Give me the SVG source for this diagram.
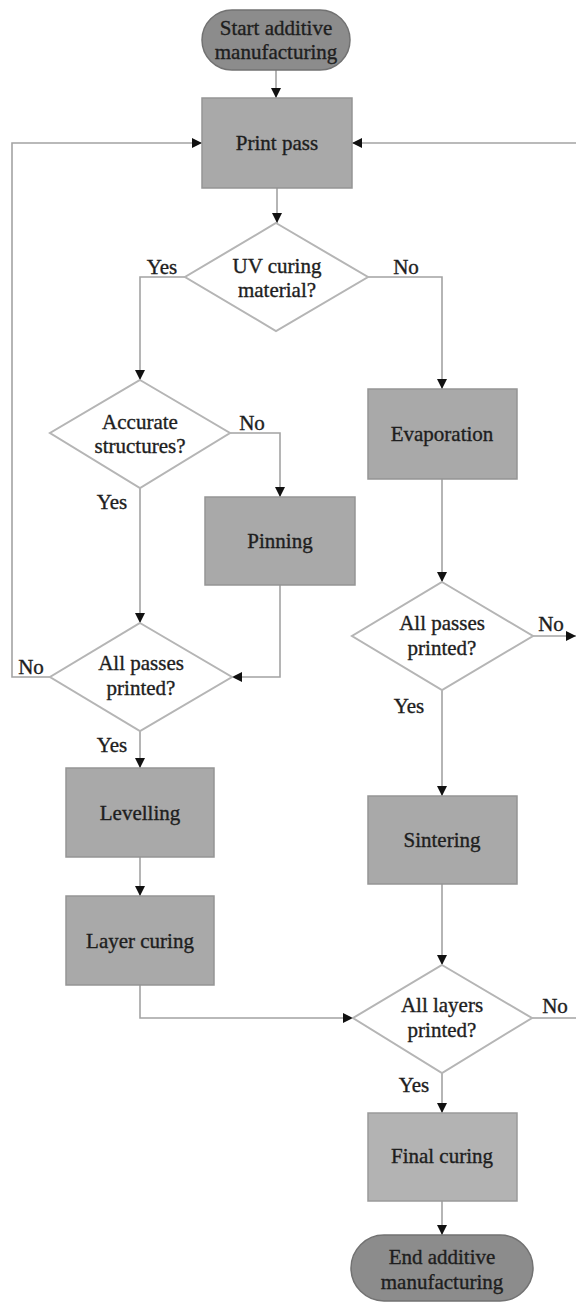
<svg xmlns="http://www.w3.org/2000/svg" width="576" height="1306" viewBox="0 0 576 1306">
<defs>
<style>
text{font-family:"Liberation Serif","DejaVu Serif","Noto Serif",serif;font-size:21px;fill:#1e1e1e;stroke:#1e1e1e;stroke-width:0.35;text-anchor:middle}
.term{fill:#8c8c8c;stroke:#727272;stroke-width:1.5}
.proc{fill:#a9a9a9;stroke:#959595;stroke-width:1.5}
.proc2{fill:#b3b3b3;stroke:#9a9a9a;stroke-width:1.5}
.dec{fill:#fff;stroke:#b5b5b5;stroke-width:2}
.edge{fill:none;stroke:#a3a3a3;stroke-width:1.6}
</style>
<marker id="arr" viewBox="0 0 10 10" refX="10" refY="5" markerWidth="10" markerHeight="10" markerUnits="userSpaceOnUse" orient="auto">
<path d="M0,0 L10,5 L0,10 z" fill="#111"/>
</marker>
</defs>
<rect width="576" height="1306" fill="#fff"/>

<g id="connectors">
<path class="edge" d="M276,70 V98" marker-end="url(#arr)"/>
<path class="edge" d="M277,188 V223" marker-end="url(#arr)"/>
<path class="edge" d="M185,277 H140 V380" marker-end="url(#arr)"/>
<path class="edge" d="M368,277 H442 V389" marker-end="url(#arr)"/>
<path class="edge" d="M230,433 H280 V497" marker-end="url(#arr)"/>
<path class="edge" d="M140,488 V623" marker-end="url(#arr)"/>
<path class="edge" d="M280,585 V677 H232" marker-end="url(#arr)"/>
<path class="edge" d="M50,677 H12 V143 H202" marker-end="url(#arr)"/>
<path class="edge" d="M140,731 V768" marker-end="url(#arr)"/>
<path class="edge" d="M140,857 V896" marker-end="url(#arr)"/>
<path class="edge" d="M140,985 V1018 H353" marker-end="url(#arr)"/>
<path class="edge" d="M442,479 V582" marker-end="url(#arr)"/>
<path class="edge" d="M533,636 H576" marker-end="url(#arr)"/>
<path class="edge" d="M576,143 H352" marker-end="url(#arr)"/>
<path class="edge" d="M442,690 V796" marker-end="url(#arr)"/>
<path class="edge" d="M442,884 V965" marker-end="url(#arr)"/>
<path class="edge" d="M532,1018 H576"/>
<path class="edge" d="M442,1073 V1113" marker-end="url(#arr)"/>
<path class="edge" d="M442,1201 V1235" marker-end="url(#arr)"/>
<text x="162" y="274">Yes</text>
<text x="406" y="274">No</text>
<text x="252" y="430">No</text>
<text x="112" y="509">Yes</text>
<text x="31" y="674">No</text>
<text x="112" y="752">Yes</text>
<text x="551" y="631">No</text>
<text x="409" y="713">Yes</text>
<text x="555" y="1013">No</text>
<text x="414" y="1092">Yes</text>
</g>

<g id="start">
<rect class="term" x="202" y="10" width="148" height="60" rx="30"/>
<text x="276" y="35">Start additive</text>
<text x="276" y="59">manufacturing</text>
</g>
<g id="print_pass">
<rect class="proc" x="202" y="98" width="150" height="90"/>
<text x="277" y="150">Print pass</text>
</g>
<g id="uv_curing">
<polygon class="dec" points="276,223 368,277 276,331 185,277"/>
<text x="277" y="273">UV curing</text>
<text x="277" y="297">material?</text>
</g>
<g id="accurate">
<polygon class="dec" points="140,380 230,433 140,488 50,433"/>
<text x="140" y="429">Accurate</text>
<text x="140" y="453">structures?</text>
</g>
<g id="pinning">
<rect class="proc" x="205" y="497" width="150" height="88"/>
<text x="280" y="548">Pinning</text>
</g>
<g id="passes_left">
<polygon class="dec" points="140,623 232,677 140,731 50,677"/>
<text x="141" y="670">All passes</text>
<text x="141" y="695">printed?</text>
</g>
<g id="levelling">
<rect class="proc" x="66" y="768" width="148" height="89"/>
<text x="140" y="820">Levelling</text>
</g>
<g id="layer_curing">
<rect class="proc" x="66" y="896" width="148" height="89"/>
<text x="140" y="948">Layer curing</text>
</g>
<g id="evaporation">
<rect class="proc" x="368" y="389" width="149" height="90"/>
<text x="442" y="441">Evaporation</text>
</g>
<g id="passes_right">
<polygon class="dec" points="442,582 533,636 442,690 352,636"/>
<text x="442" y="630">All passes</text>
<text x="442" y="655">printed?</text>
</g>
<g id="sintering">
<rect class="proc" x="368" y="796" width="149" height="88"/>
<text x="442" y="847">Sintering</text>
</g>
<g id="layers">
<polygon class="dec" points="442,965 532,1018 442,1073 353,1018"/>
<text x="442" y="1012">All layers</text>
<text x="442" y="1037">printed?</text>
</g>
<g id="final_curing">
<rect class="proc2" x="368" y="1113" width="149" height="88"/>
<text x="442" y="1163">Final curing</text>
</g>
<g id="end">
<rect class="term" x="351" y="1235" width="182" height="66" rx="33"/>
<text x="442" y="1264">End additive</text>
<text x="442" y="1289">manufacturing</text>
</g>
</svg>
